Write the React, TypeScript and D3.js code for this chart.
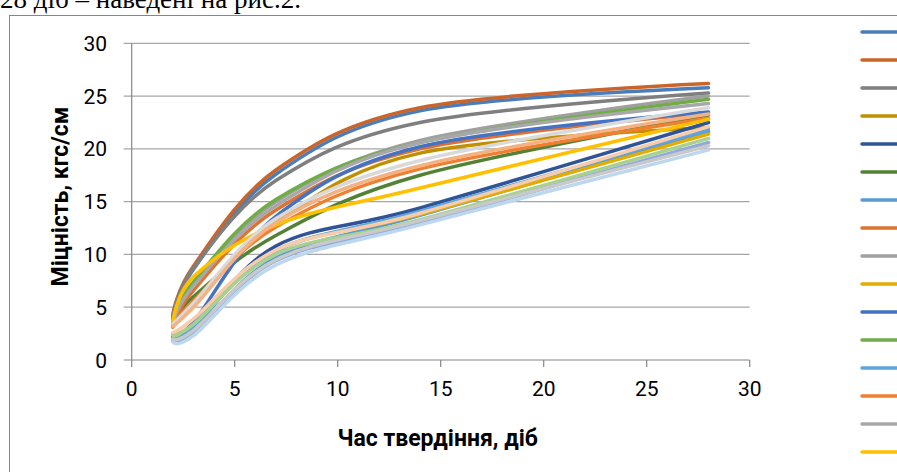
import React from 'react';
import * as d3 from 'd3';

// Days of hardening at which the strength was measured
const DAYS = [2, 3, 7, 14, 28];

// Strength values, kgf/cm, for each series (legend order)
const s01 = [4.0, 8.6, 17.6, 23.6, 25.8];
const s02 = [4.3, 8.9, 18.0, 23.9, 26.2];
const s03 = [4.1, 8.7, 17.0, 22.5, 25.3];
const s04 = [3.8, 5.2, 13.0, 19.6, 22.0];
const s05 = [2.1, 3.0, 10.8, 14.4, 22.5];
const s06 = [3.4, 6.0, 11.8, 17.5, 23.2];
const s07 = [1.9, 2.6, 9.7, 13.7, 21.6];
const s08 = [3.1, 6.6, 14.2, 20.0, 23.4];
const s09 = [3.5, 7.2, 15.0, 20.8, 25.0];
const s10 = [2.5, 3.4, 10.4, 13.8, 21.4];
const s11 = [2.2, 3.6, 13.6, 20.2, 23.5];
const s12 = [3.7, 7.4, 15.2, 20.6, 24.7];
const s13 = [2.0, 3.2, 10.3, 14.1, 21.8];
const s14 = [3.2, 5.6, 12.6, 18.1, 22.9];
const s15 = [3.5, 7.0, 14.6, 20.6, 24.3];
const s16 = [3.6, 7.9, 12.8, 16.3, 22.8];
const s17 = [3.4, 5.4, 13.4, 18.9, 23.9];
const s18 = [3.2, 5.0, 13.0, 18.4, 23.3];
const s19 = [2.6, 3.9, 10.4, 13.9, 22.1];
const s20 = [2.3, 3.4, 10.0, 13.3, 21.0];
const s21 = [1.8, 2.5, 9.4, 13.0, 20.6];
const s22 = [2.0, 2.8, 9.5, 13.2, 20.3];
const s23 = [1.7, 2.3, 9.0, 12.8, 19.9];

const SERIES = [s01, s02, s03, s04, s05, s06, s07, s08, s09, s10, s11, s12, s13, s14, s15, s16, s17, s18, s19, s20, s21, s22, s23];

const COLORS = [
  '#4A7EBB', '#C9652B', '#7F7F7F', '#BF9000', '#2F5597', '#548235',
  '#5B9BD5', '#E0712F', '#A0A0A0', '#E3AC00', '#4472C4', '#70AD47',
  '#5EA5E0', '#F08030', '#A8A8A8', '#FFC000', '#D9D9D9', '#F4B183',
  '#F8CBAD', '#A9D18E', '#8FAADC', '#C9C9C9', '#BDD7EE',
];

const X_TICKS = [0, 5, 10, 15, 20, 25, 30];
const Y_TICKS = [0, 5, 10, 15, 20, 25, 30];

const X_TITLE = 'Час твердіння, діб';
const Y_TITLE = 'Міцність, кгс/см';
const CAPTION = '28 діб – наведені на рис.2.';

export default function App() {
  const W = 897;
  const H = 472;
  const x = d3.scaleLinear().domain([0, 30]).range([131.7, 749.7]);
  const y = d3.scaleLinear().domain([0, 30]).range([360, 43.3]);
  const line = d3
    .line<number>()
    .x((_, i) => x(DAYS[i]))
    .y((d) => y(d))
    .curve(d3.curveCardinal.tension(0));

  const font = 'Roboto, "Noto Sans", sans-serif';
  const plotCx = (x.range()[0] + x.range()[1]) / 2;
  const plotCy = (y.range()[0] + y.range()[1]) / 2;

  return (
    <svg
      width={W}
      height={H}
      style={{ position: 'absolute', left: 0, top: 0, background: '#fff' }}
    >
      <rect x={0} y={0} width={W} height={H} fill="#fff" />
      <text
        x={0}
        y={8}
        fontFamily='"Liberation Serif", "Times New Roman", serif'
        fontSize={27}
        fill="#000"
      >
        {CAPTION}
      </text>
      <rect x={9.5} y={15.5} width={W + 20} height={H + 20} fill="#fff" stroke="#868686" strokeWidth={1} />

      {/* gridlines */}
      {Y_TICKS.filter((t) => t > 0).map((t) => (
        <line key={t} x1={x(0) - 8} x2={x(30)} y1={y(t)} y2={y(t)} stroke="#A6A6A6" strokeWidth={1.2} />
      ))}
      {/* axes */}
      <line x1={x(0) - 8} x2={x(30)} y1={y(0)} y2={y(0)} stroke="#868686" strokeWidth={1.2} />
      <line x1={x(0)} x2={x(0)} y1={y(30)} y2={y(0)} stroke="#868686" strokeWidth={1.2} />
      {X_TICKS.map((t) => (
        <line key={t} x1={x(t)} x2={x(t)} y1={y(0)} y2={y(0) + 7} stroke="#868686" strokeWidth={1.2} />
      ))}

      {/* tick labels */}
      {Y_TICKS.map((t) => (
        <text key={t} x={107} y={y(t)} dy="0.36em" textAnchor="end" fontFamily={font} fontSize={21} fill="#000">
          {t}
        </text>
      ))}
      {X_TICKS.map((t) => (
        <text key={t} x={x(t)} y={388} dy="0.36em" textAnchor="middle" fontFamily={font} fontSize={21} fill="#000">
          {t}
        </text>
      ))}

      {/* axis titles */}
      <text x={plotCx - 3} y={438} dy="0.36em" textAnchor="middle" fontFamily={font} fontWeight="bold" fontSize={23} fill="#000">
        {X_TITLE}
      </text>
      <text
        transform={`translate(60,${plotCy - 5}) rotate(-90)`}
        dy="0.36em"
        textAnchor="middle"
        fontFamily={font}
        fontWeight="bold"
        fontSize={23}
        fill="#000"
      >
        {Y_TITLE}
      </text>

      {/* series lines */}
      {SERIES.map((s, i) => (
        <path
          key={i}
          d={line(s) || ''}
          fill="none"
          stroke={COLORS[i]}
          strokeWidth={3.5}
          strokeLinecap="round"
          strokeLinejoin="round"
        />
      ))}

      {/* legend swatches (labels fall outside the visible area) */}
      {SERIES.map((_, i) => (
        <line
          key={i}
          x1={862}
          x2={910}
          y1={32 + 28 * i}
          y2={32 + 28 * i}
          stroke={COLORS[i]}
          strokeWidth={3.5}
          strokeLinecap="round"
        />
      ))}
    </svg>
  );
}
